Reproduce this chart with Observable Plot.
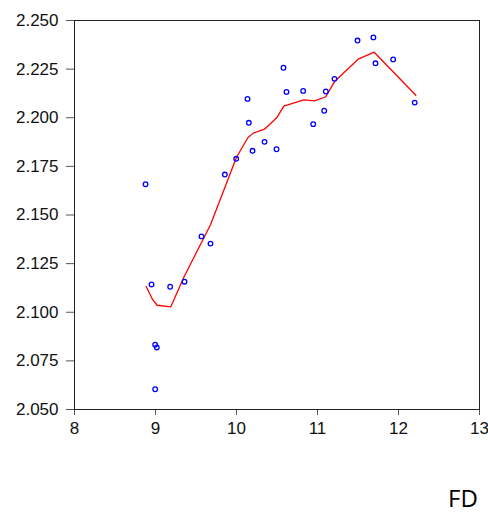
<!DOCTYPE html>
<html>
<head>
<meta charset="utf-8">
<script src="https://cdn.jsdelivr.net/npm/d3@7"></script>
<script src="https://cdn.jsdelivr.net/npm/@observablehq/plot@0.6"></script>
<style>
  html, body { margin: 0; padding: 0; background: #fff; }
  #chart svg { display: block; }
</style>
</head>
<body>
<div id="chart"></div>
<script>
// Scatter points (x, y)
const pointX = [8.877, 9.856, 9.996, 10.136, 10.152, 10.198, 10.346, 10.494, 10.580, 10.617,
                10.823, 10.947, 11.083, 11.103, 11.210, 11.494, 11.690, 11.716, 11.934, 12.200,
                8.951, 9.181, 9.358, 9.568, 9.679, 8.996, 9.016, 8.996];
const pointY = [2.1658, 2.1708, 2.1789, 2.2097, 2.1974, 2.1830, 2.1876, 2.1838, 2.2257, 2.2133,
                2.2138, 2.1967, 2.2036, 2.2135, 2.2200, 2.2397, 2.2413, 2.2280, 2.2300, 2.2078,
                2.1143, 2.1131, 2.1157, 2.1390, 2.1353, 2.0833, 2.0819, 2.0604];

// Fitted (smoothed) line vertices
const fitX = [8.885, 8.959, 9.020, 9.189, 9.350, 9.679, 10.000, 10.140, 10.206, 10.346,
              10.502, 10.584, 10.830, 10.963, 11.103, 11.210, 11.502, 11.700, 12.214];
const fitY = [2.1132, 2.1069, 2.1036, 2.1028, 2.1180, 2.1450, 2.1797, 2.1897, 2.1921, 2.1941,
              2.2003, 2.2060, 2.2092, 2.2087, 2.2108, 2.2186, 2.2301, 2.2337, 2.2116];

const xTicks = [8, 9, 10, 11, 12, 13];
const yTicks = [2.050, 2.075, 2.100, 2.125, 2.150, 2.175, 2.200, 2.225, 2.250];
const cornerLabel = "FD";

const points = pointX.map((x, i) => ({x, y: pointY[i]}));
const fit = fitX.map((x, i) => ({x, y: fitY[i]}));

const chart = Plot.plot({
  width: 488,
  height: 512,
  marginLeft: 74,
  marginRight: 9,
  marginTop: 20,
  marginBottom: 103,
  style: {fontFamily: "'Liberation Sans', Arial, sans-serif", fontSize: "17px", color: "#222", background: "#fff"},
  x: {domain: [8, 13]},
  y: {domain: [2.05, 2.25]},
  marks: [
    Plot.axisX({ticks: xTicks, tickSize: 6, tickPadding: 6, tickFormat: d3.format("d"), label: null, stroke: "#555", fill: "#111", fontSize: 17, letterSpacing: "0.8px"}),
    Plot.axisY({ticks: yTicks, tickSize: 8, tickPadding: 8, tickFormat: d3.format(".3f"), label: null, stroke: "#555", fill: "#111", fontSize: 17, letterSpacing: "0.8px"}),
    Plot.line(fit, {x: "x", y: "y", stroke: "#ff0000", strokeWidth: 1.3}),
    Plot.dot(points, {x: "x", y: "y", r: 2.3, stroke: "#0000ff", strokeWidth: 1.3, fill: "none"}),
    Plot.frame({stroke: "#222", strokeWidth: 1})
  ]
});

d3.select(chart).append("text")
  .attr("x", 463)
  .attr("y", 507)
  .attr("font-family", "'Open Sans', 'Noto Sans', sans-serif")
  .attr("font-size", 24)
  .attr("fill", "#000")
  .text(cornerLabel);

document.getElementById("chart").appendChild(chart);
</script>
</body>
</html>
